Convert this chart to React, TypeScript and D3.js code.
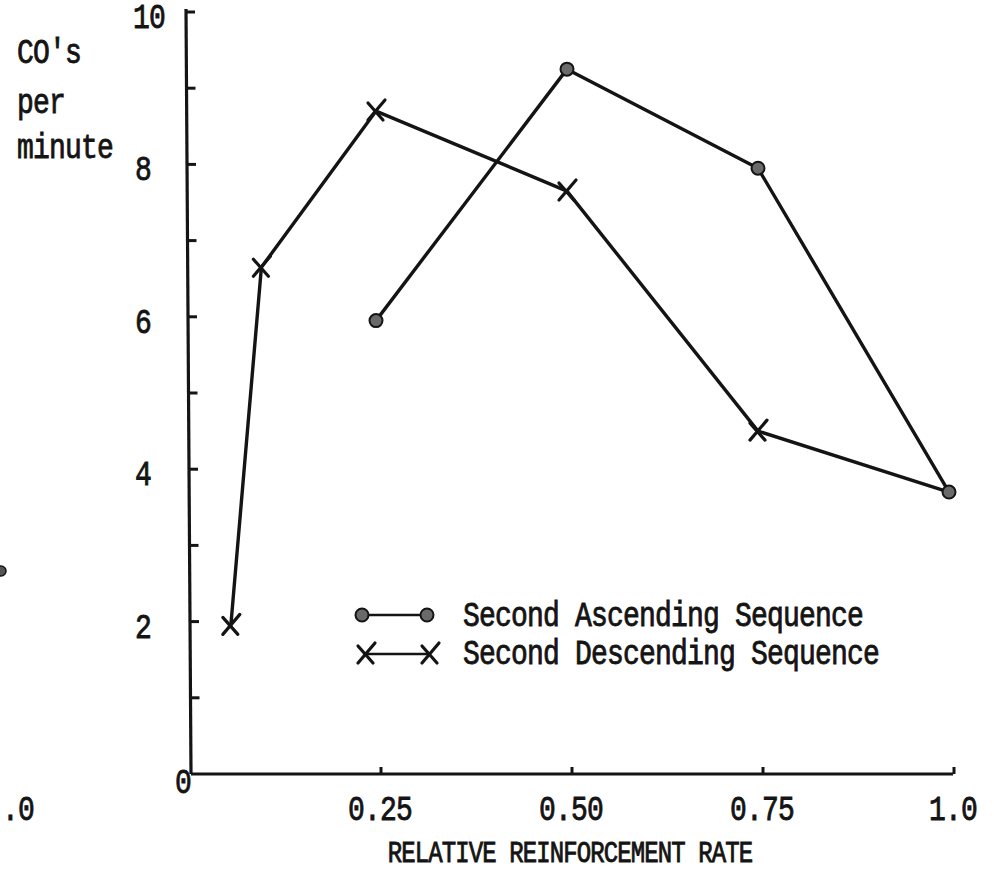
import React from "react";
import * as d3 from "d3";

// Relative reinforcement rate (x) and CO's per minute (y)
const ascX = [0.25, 0.5, 0.75, 1.0];
const ascY = [5.95, 9.25, 7.95, 3.7];
const descX = [0.06, 0.1, 0.25, 0.5, 0.75, 1.0];
const descY = [1.95, 6.65, 8.7, 7.65, 4.5, 3.7];

const yTicks = [1, 2, 3, 4, 5, 6, 7, 8, 9, 10];
const yTickLabels = [2, 4, 6, 8, 10];
const xTicks = [0.25, 0.5, 0.75, 1.0];
const xTickLabels = ["0.25", "0.50", "0.75", "1.0"];

const yTitle = ["CO's", "per", "minute"];
const xTitle = "RELATIVE REINFORCEMENT RATE";
const legendLabels = ["Second Ascending Sequence", "Second Descending Sequence"];

const W = 994;
const H = 876;
const INK = "#141414";
const FONT = "'Liberation Mono', 'Courier New', monospace";

const x = d3.scaleLinear().domain([0, 1]).range([185, 949]);
const y = d3.scaleLinear().domain([0, 10]).range([774, 12]);
const axisX = 188;

const line = d3
  .line<[number, number]>()
  .x((d) => x(d[0]))
  .y((d) => y(d[1]));

const Cross = ({ cx, cy }: { cx: number; cy: number }) => (
  <g transform={`translate(${cx},${cy})`} stroke={INK} strokeWidth={3.2} strokeLinecap="round">
    <line x1={-8} y1={-8} x2={7} y2={9} />
    <line x1={-8} y1={9} x2={9} y2={-11} />
  </g>
);

const Dot = ({ cx, cy }: { cx: number; cy: number }) => (
  <circle cx={cx} cy={cy} r={6.5} fill="#6a6a6a" stroke={INK} strokeWidth={2} />
);

const baseStyle = {
  fontFamily: FONT,
  fontSize: 28,
  letterSpacing: -0.8,
  fill: INK,
  stroke: INK,
  strokeWidth: 0.7,
} as const;

// typewriter text: slightly taller than the stock monospace face
const T = ({
  x: tx,
  y: ty,
  anchor = "start",
  size,
  spacing,
  children,
}: {
  x: number;
  y: number;
  anchor?: "start" | "middle" | "end";
  size?: number;
  spacing?: number;
  children: React.ReactNode;
}) => (
  <text
    transform={`translate(${tx},${ty}) scale(1,1.22)`}
    textAnchor={anchor}
    style={{
      ...baseStyle,
      ...(size ? { fontSize: size } : {}),
      ...(spacing !== undefined ? { letterSpacing: spacing } : {}),
    }}
  >
    {children}
  </text>
);

export default function App() {
  const asc = ascX.map((v, i) => [v, ascY[i]] as [number, number]);
  const desc = descX.map((v, i) => [v, descY[i]] as [number, number]);

  return (
    <svg
      width={W}
      height={H}
      viewBox={`0 0 ${W} ${H}`}
      style={{ position: "absolute", left: 0, top: 0, background: "#fff" }}
    >
      <rect width={W} height={H} fill="#fff" />

      {/* fragment of the neighbouring figure at the left edge */}
      <circle cx={1} cy={571} r={5} fill="#555" stroke={INK} strokeWidth={1.5} />
      <T x={2} y={820}>.0</T>

      {/* axes */}
      <line x1={axisX - 2} y1={y(10) - 3} x2={axisX + 3} y2={y(0)} stroke={INK} strokeWidth={3.2} />
      <line x1={axisX + 3} y1={y(0)} x2={x(1) + 4} y2={y(0)} stroke={INK} strokeWidth={3.2} />
      {yTicks.map((t) => (
        <line
          key={`yt${t}`}
          x1={axisX - 2 + 0.5 * (10 - t)}
          x2={axisX + 7 + 0.5 * (10 - t)}
          y1={y(t)}
          y2={y(t)}
          stroke={INK}
          strokeWidth={3}
        />
      ))}
      {xTicks.map((t) => (
        <line key={`xt${t}`} x1={x(t) + 5} x2={x(t) + 5} y1={y(0)} y2={y(0) - 7} stroke={INK} strokeWidth={3} />
      ))}

      {/* tick labels */}
      {yTickLabels.map((t) => (
        <T key={`yl${t}`} x={t === 10 ? 149 : 143} y={y(t) + 16} anchor="middle">
          {t}
        </T>
      ))}
      <T x={183} y={793} anchor="middle">0</T>
      {xTicks.map((t, i) => (
        <T key={`xl${t}`} x={x(t) + 4} y={820} anchor="middle">
          {xTickLabels[i]}
        </T>
      ))}

      {/* axis titles */}
      {yTitle.map((s, i) => (
        <T key={s} x={17} y={[63, 113, 158][i]}>
          {s}
        </T>
      ))}
      <T x={570} y={862} anchor="middle" size={24} spacing={-0.9}>
        {xTitle}
      </T>

      {/* series */}
      <path d={line(desc) ?? ""} fill="none" stroke={INK} strokeWidth={3.4} strokeLinejoin="round" />
      <path d={line(asc) ?? ""} fill="none" stroke={INK} strokeWidth={3.4} strokeLinejoin="round" />
      {desc.slice(0, desc.length - 1).map((d, i) => (
        <Cross key={`c${i}`} cx={x(d[0])} cy={y(d[1])} />
      ))}
      {asc.map((d, i) => (
        <Dot key={`d${i}`} cx={x(d[0])} cy={y(d[1])} />
      ))}

      {/* legend */}
      <line x1={362} x2={427} y1={615} y2={615} stroke={INK} strokeWidth={2.5} />
      <Dot cx={362} cy={615} />
      <Dot cx={427} cy={615} />
      <T x={463} y={626}>{legendLabels[0]}</T>

      <line x1={366} x2={430} y1={654} y2={654} stroke={INK} strokeWidth={2.5} />
      <Cross cx={366} cy={654} />
      <Cross cx={430} cy={654} />
      <T x={463} y={664}>{legendLabels[1]}</T>
    </svg>
  );
}
